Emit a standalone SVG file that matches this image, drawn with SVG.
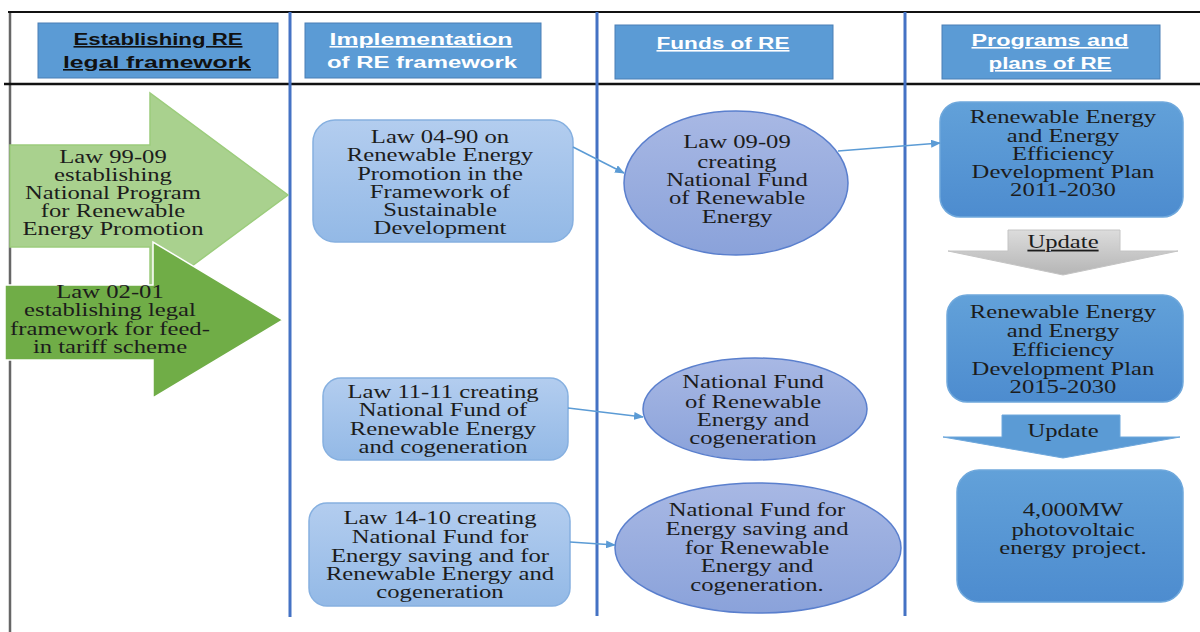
<svg xmlns="http://www.w3.org/2000/svg" width="1200" height="632" viewBox="0 0 1200 632">
<style>
.t{font-family:"Liberation Serif","Times New Roman",serif;font-size:18px;text-anchor:middle;fill:#1c1c1c}
.h{font-family:"Liberation Sans",Arial,sans-serif;font-size:16px;font-weight:bold;text-anchor:middle;text-decoration:underline}
.hb{fill:#5b9bd5;stroke:#4a7fb5;stroke-width:1}
.vl{stroke:#4472c4;stroke-width:3}
.conn{stroke:#5b9bd5;stroke-width:1.5;fill:none;marker-end:url(#ah)}
.lb{fill:url(#gLight);stroke:#86b0e0;stroke-width:1.5}
.el{fill:url(#gEll);stroke:#5a7fcd;stroke-width:1.5}
.pb{fill:url(#gPlan);stroke:#6fa8dc;stroke-width:1.5}
</style>
<defs>
<linearGradient id="gLight" x1="0" y1="0" x2="0" y2="1"><stop offset="0" stop-color="#b3cdef"/><stop offset="1" stop-color="#93b9e6"/></linearGradient>
<linearGradient id="gEll" x1="0" y1="0" x2="0" y2="1"><stop offset="0" stop-color="#a8b8e4"/><stop offset="1" stop-color="#8aa2da"/></linearGradient>
<linearGradient id="gPlan" x1="0" y1="0" x2="0" y2="1"><stop offset="0" stop-color="#62a1d9"/><stop offset="1" stop-color="#4d8ccf"/></linearGradient>
<linearGradient id="gGray" x1="0" y1="0" x2="0" y2="1"><stop offset="0" stop-color="#dcdcdc"/><stop offset="1" stop-color="#b5b5b5"/></linearGradient>
<marker id="ah" markerWidth="10" markerHeight="8" refX="9" refY="4" orient="auto" markerUnits="userSpaceOnUse"><path d="M0,0 L10,4 L0,8 Z" fill="#5b9bd5"/></marker>
</defs>
<rect width="1200" height="632" fill="#ffffff"/>
<g id="frame">
<line x1="10" y1="12" x2="10" y2="632" stroke="#666" stroke-width="2.5"/>
<line x1="8" y1="12" x2="1200" y2="12" stroke="#111" stroke-width="2"/>
<line x1="4" y1="84" x2="1200" y2="84" stroke="#111" stroke-width="2.5"/>
<line class="vl" x1="290" y1="12" x2="290" y2="617"/>
<line class="vl" x1="597" y1="12" x2="597" y2="616"/>
<line class="vl" x1="905" y1="12" x2="905" y2="616"/>
</g>
<g id="header1"><rect class="hb" x="38" y="23" width="240" height="55"/>
<text class="h" x="158" y="45" fill="#111" textLength="169" lengthAdjust="spacingAndGlyphs">Establishing RE</text>
<text class="h" x="157" y="68" fill="#111" textLength="188" lengthAdjust="spacingAndGlyphs">legal framework</text></g>
<g id="header2"><rect class="hb" x="305" y="23" width="236" height="55"/>
<text class="h" x="421" y="45" fill="#fff" textLength="183" lengthAdjust="spacingAndGlyphs">Implementation</text>
<text class="h" x="422" y="68" fill="#fff" style="text-decoration:none" textLength="190" lengthAdjust="spacingAndGlyphs">of RE framework</text></g>
<g id="header3"><rect class="hb" x="615" y="25" width="218" height="54"/>
<text class="h" x="723" y="49" fill="#fff" textLength="133" lengthAdjust="spacingAndGlyphs">Funds of RE</text></g>
<g id="header4"><rect class="hb" x="942" y="25" width="218" height="54"/>
<text class="h" x="1050" y="46" fill="#fff" textLength="157" lengthAdjust="spacingAndGlyphs">Programs and</text>
<text class="h" x="1050" y="69" fill="#fff" textLength="123" lengthAdjust="spacingAndGlyphs">plans of RE</text></g>
<g id="law9909">
<polygon points="10,145 150,145 150,93 288,195 150,297 150,247 10,247" fill="#a9d18e" stroke="#9ccc7c" stroke-width="1.5"/>
<g transform="translate(113 0) scale(1.37 1)">
<text class="t" x="0" y="163">Law 99-09</text>
<text class="t" x="0" y="181">establishing</text>
<text class="t" x="0" y="199">National Program</text>
<text class="t" x="0" y="217">for Renewable</text>
<text class="t" x="0" y="235">Energy Promotion</text></g></g>
<g id="law0201">
<polygon points="5,285 153,285 153,242 283,320 153,398 153,360 5,360" fill="#70ad47" stroke="#ffffff" stroke-width="1.5"/>
<g transform="translate(110 0) scale(1.37 1)">
<text class="t" x="0" y="298">Law 02-01</text>
<text class="t" x="0" y="316">establishing legal</text>
<text class="t" x="0" y="335">framework for feed-</text>
<text class="t" x="0" y="353">in tariff scheme</text></g></g>
<g id="law0490"><rect class="lb" x="313" y="120" width="260" height="122" rx="22"/>
<g transform="translate(440 0) scale(1.37 1)">
<text class="t" x="0" y="143">Law 04-90 on</text>
<text class="t" x="0" y="161">Renewable Energy</text>
<text class="t" x="0" y="180">Promotion in the</text>
<text class="t" x="0" y="198">Framework of</text>
<text class="t" x="0" y="216">Sustainable</text>
<text class="t" x="0" y="234">Development</text></g></g>
<g id="law1111"><rect class="lb" x="323" y="378" width="245" height="82" rx="18"/>
<g transform="translate(443 0) scale(1.37 1)">
<text class="t" x="0" y="398">Law 11-11 creating</text>
<text class="t" x="0" y="416">National Fund of</text>
<text class="t" x="0" y="435">Renewable Energy</text>
<text class="t" x="0" y="453">and cogeneration</text></g></g>
<g id="law1410"><rect class="lb" x="309" y="503" width="261" height="103" rx="18"/>
<g transform="translate(440 0) scale(1.37 1)">
<text class="t" x="0" y="524">Law 14-10 creating</text>
<text class="t" x="0" y="543">National Fund for</text>
<text class="t" x="0" y="562">Energy saving and for</text>
<text class="t" x="0" y="580">Renewable Energy and</text>
<text class="t" x="0" y="598">cogeneration</text></g></g>
<g id="fund0909"><ellipse class="el" cx="736" cy="183" rx="112" ry="72"/>
<g transform="translate(737 0) scale(1.37 1)">
<text class="t" x="0" y="148">Law 09-09</text>
<text class="t" x="0" y="168">creating</text>
<text class="t" x="0" y="186">National Fund</text>
<text class="t" x="0" y="204">of Renewable</text>
<text class="t" x="0" y="223">Energy</text></g></g>
<g id="fundRECog"><ellipse class="el" cx="755" cy="409" rx="112" ry="51"/>
<g transform="translate(753 0) scale(1.37 1)">
<text class="t" x="0" y="388">National Fund</text>
<text class="t" x="0" y="408">of Renewable</text>
<text class="t" x="0" y="426">Energy and</text>
<text class="t" x="0" y="444">cogeneration</text></g></g>
<g id="fundSaving"><ellipse class="el" cx="758" cy="548" rx="143" ry="65"/>
<g transform="translate(757 0) scale(1.37 1)">
<text class="t" x="0" y="516">National Fund for</text>
<text class="t" x="0" y="535">Energy saving and</text>
<text class="t" x="0" y="554">for Renewable</text>
<text class="t" x="0" y="572">Energy and</text>
<text class="t" x="0" y="591">cogeneration.</text></g></g>
<g id="plan2011"><rect class="pb" x="940" y="102" width="243" height="115" rx="20"/>
<g transform="translate(1063 0) scale(1.37 1)">
<text class="t" x="0" y="123">Renewable Energy</text>
<text class="t" x="0" y="142">and Energy</text>
<text class="t" x="0" y="160">Efficiency</text>
<text class="t" x="0" y="178">Development Plan</text>
<text class="t" x="0" y="196">2011-2030</text></g></g>
<g id="update1">
<polygon points="1008,230 1120,230 1120,251 1178,251 1063,275 948,251 1008,251" fill="url(#gGray)" stroke="#c4c4c4" stroke-width="1"/>
<g transform="translate(1063 0) scale(1.37 1)"><text class="t" x="0" y="248" style="text-decoration:underline">Update</text></g></g>
<g id="plan2015"><rect class="pb" x="947" y="295" width="236" height="107" rx="20"/>
<g transform="translate(1063 0) scale(1.37 1)">
<text class="t" x="0" y="318">Renewable Energy</text>
<text class="t" x="0" y="337">and Energy</text>
<text class="t" x="0" y="356">Efficiency</text>
<text class="t" x="0" y="375">Development Plan</text>
<text class="t" x="0" y="393">2015-2030</text></g></g>
<g id="update2">
<polygon points="1002,415 1120,415 1120,437 1180,437 1063,458 943,437 1002,437" fill="#5b9bd5" stroke="#6fa8dc" stroke-width="1"/>
<g transform="translate(1063 0) scale(1.37 1)"><text class="t" x="0" y="437">Update</text></g></g>
<g id="pv4000"><rect class="pb" x="957" y="470" width="226" height="132" rx="22"/>
<g transform="translate(1073 0) scale(1.37 1)">
<text class="t" x="0" y="516">4,000MW</text>
<text class="t" x="0" y="536">photovoltaic</text>
<text class="t" x="0" y="554">energy project.</text></g></g>
<g id="connectors">
<line class="conn" x1="573" y1="147" x2="624" y2="173"/>
<line class="conn" x1="838" y1="151" x2="940" y2="143"/>
<line class="conn" x1="568" y1="408" x2="643" y2="417"/>
<line class="conn" x1="570" y1="542" x2="615" y2="545"/>
</g>
</svg>
